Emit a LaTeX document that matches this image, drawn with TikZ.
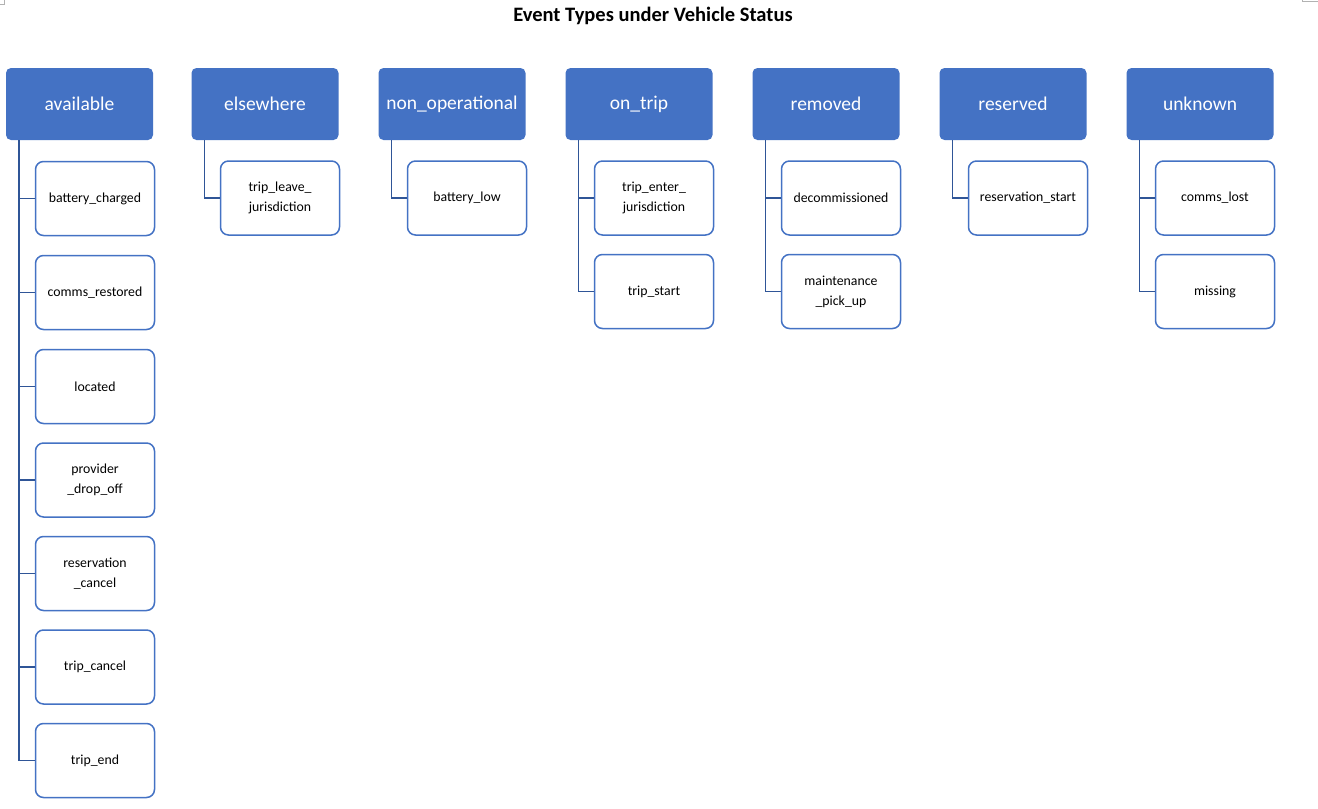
\documentclass[tikz,border=0pt]{standalone}
\usepackage{fontspec}
\setmainfont{Carlito}
\definecolor{hdr}{HTML}{4472C4}
\definecolor{conn}{HTML}{2F5597}
\definecolor{txt}{HTML}{000000}
\begin{document}
\begin{tikzpicture}[x=1pt,y=-1pt,
  header/.style={fill=hdr,draw=none,rounded corners=5pt,minimum width=147pt,minimum height=72pt,inner sep=0pt,text=white,font=\fontsize{19.5}{22}\selectfont},
  child/.style={draw=hdr,line width=1.5pt,fill=white,rounded corners=8pt,minimum width=119pt,minimum height=74pt,inner sep=0pt,align=center,text=txt,font=\fontsize{13.8}{20}\selectfont},
  link/.style={draw=conn,line width=1.6pt}]
\useasboundingbox (0,0) rectangle (1318,809);
\fill[white] (0,0) rectangle (1318,809);
\draw[gray!60,line width=0.8pt] (0,4) -- (4,4) -- (4,0);
\draw[gray!60,line width=0.8pt] (1302,0) -- (1302,1.5) -- (1318,1.5);
\node[font=\bfseries\fontsize{20.5}{24}\selectfont] (title) at (653,16) {Event Types under Vehicle Status};
% headers
\node[header] (h1) at (79.5,104) {available};
\node[header] (h2) at (265,104) {elsewhere};
\node[header] (h3) at (452,104) {non\_operational};
\node[header] (h4) at (639,104) {on\_trip};
\node[header] (h5) at (826,104) {removed};
\node[header] (h6) at (1013,104) {reserved};
\node[header] (h7) at (1200,104) {unknown};
% available children
\node[child] (a1) at (95,198.5) {battery\_charged};
\node[child] (a2) at (95,292.5) {comms\_restored};
\node[child] (a3) at (95,386.5) {located};
\node[child] (a4) at (95,480) {provider\\\_drop\_off};
\node[child] (a5) at (95,573.5) {reservation\\\_cancel};
\node[child] (a6) at (95,667) {trip\_cancel};
\node[child] (a7) at (95,760.5) {trip\_end};
% elsewhere
\node[child] (b1) at (280,198) {trip\_leave\_\\jurisdiction};
% non_operational
\node[child] (c1) at (467,198) {battery\_low};
% on_trip
\node[child] (d1) at (654,198) {trip\_enter\_\\jurisdiction};
\node[child] (d2) at (654,291.5) {trip\_start};
% removed
\node[child] (e1) at (841,198) {decommissioned};
\node[child] (e2) at (841,291.5) {maintenance\\\_pick\_up};
% reserved
\node[child] (f1) at (1028,198) {reservation\_start};
% unknown
\node[child] (g1) at (1215,198) {comms\_lost};
\node[child] (g2) at (1215,291.5) {missing};
% connectors
\foreach \h/\c in {h1/a1,h1/a2,h1/a3,h1/a4,h1/a5,h1/a6,h1/a7,h2/b1,h3/c1,h4/d1,h4/d2,h5/e1,h5/e2,h6/f1,h7/g1,h7/g2}{
  \draw[link] ([xshift=13pt]\h.south west) |- (\c.west);
}
\end{tikzpicture}
\end{document}
